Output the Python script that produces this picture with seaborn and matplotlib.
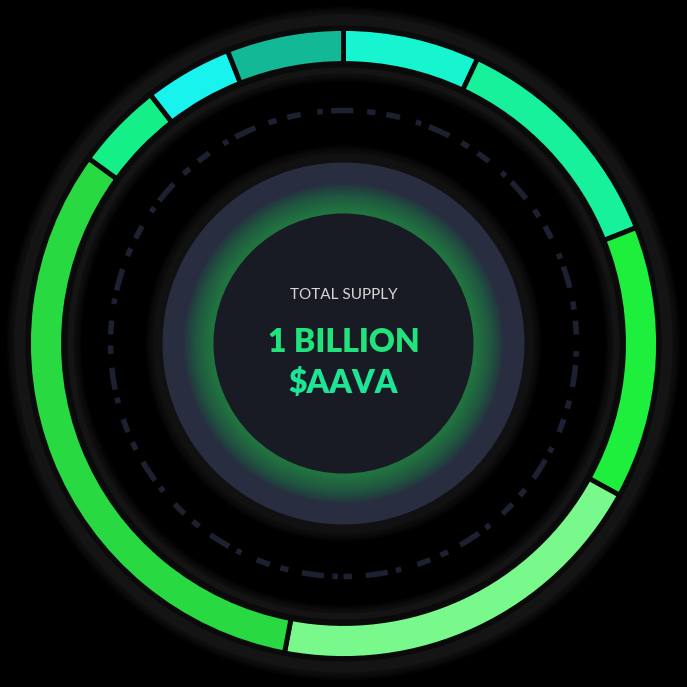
import numpy as np
import matplotlib
matplotlib.use("Agg")
import matplotlib.pyplot as plt
import seaborn as sns
from matplotlib.patches import Circle, Wedge

# ---- data ----
segments = ["Seg 1", "Seg 2", "Seg 3", "Seg 4", "Seg 5", "Seg 6", "Seg 7", "Seg 8"]
shares = [7, 12, 14, 20, 32, 4.5, 4.5, 6]
seg_colors = ["#16f5d0", "#17f19c", "#1eef3c", "#79f98b",
              "#29d941", "#15ef88", "#18f3ee", "#13b996"]
title_small = "TOTAL SUPPLY"
title_big = "1 BILLION"
title_token = "$AAVA"

sns.set_theme(style="dark")
plt.rcParams['font.family'] = ['Lato', 'DejaVu Sans']

fig = plt.figure(figsize=(6.87, 6.87), dpi=100, facecolor="black")
ax = fig.add_axes([0, 0, 1, 1])
ax.set_facecolor("black")
C = (343.5, 343.5)


def annulus(r_in, r_out, color, alpha=1.0, z=1):
    ax.add_patch(Wedge(C, r_out, 0, 360, width=r_out - r_in, facecolor=color,
                       edgecolor="none", alpha=alpha, zorder=z))


# outer dark band with soft edge
for d in range(8, 0, -1):
    annulus(270 - d, 329 + d, "#1b1b1b", alpha=0.12, z=1)
annulus(270, 329, "#141414", z=1)
annulus(311, 318, "#0a0a0a", z=1.5)
annulus(276, 282, "#0a0a0a", z=1.5)

# donut segments
ax.pie(shares, colors=seg_colors, startangle=90, counterclock=False,
       radius=315, center=C,
       wedgeprops=dict(width=35, edgecolor="#0a0a0a", linewidth=3.5, zorder=3))

# faint dashed ring
ax.add_patch(Circle(C, 233, fill=False, edgecolor="#1c2030", lw=4,
                    linestyle=(0, (1.5, 2.5, 4, 1.5, 1, 3, 2.5, 2)), zorder=2))

# dark ring around centre disc
for d in range(8, 0, -1):
    annulus(176, 190 + d, "#161616", alpha=0.14, z=2)
annulus(176, 190, "#111111", z=2.2)

# centre disc
ax.add_patch(Circle(C, 181, facecolor="#282d3f", edgecolor="none", zorder=3))
for r in np.arange(160, 130, -1.0):
    ax.add_patch(Circle(C, r, facecolor="#20a84a", edgecolor="none",
                        alpha=0.035, zorder=3.5))
ax.add_patch(Circle(C, 130, facecolor="#181b23", edgecolor="none", zorder=4))

ax.text(C[0], 392, title_small, ha="center", va="center", color="#d6d6d6",
        fontsize=11, zorder=5)
ax.text(C[0], 345, title_big, ha="center", va="center", color="#22e27c",
        fontsize=23, fontweight="heavy", zorder=5)
ax.text(C[0], 304, title_token, ha="center", va="center", color="#1ee596",
        fontsize=23, fontweight="heavy", zorder=5)

ax.set_xlim(0, 687)
ax.set_ylim(0, 687)
ax.set_aspect("equal")
ax.axis("off")
fig.savefig("out.png", dpi=100, facecolor="black")
